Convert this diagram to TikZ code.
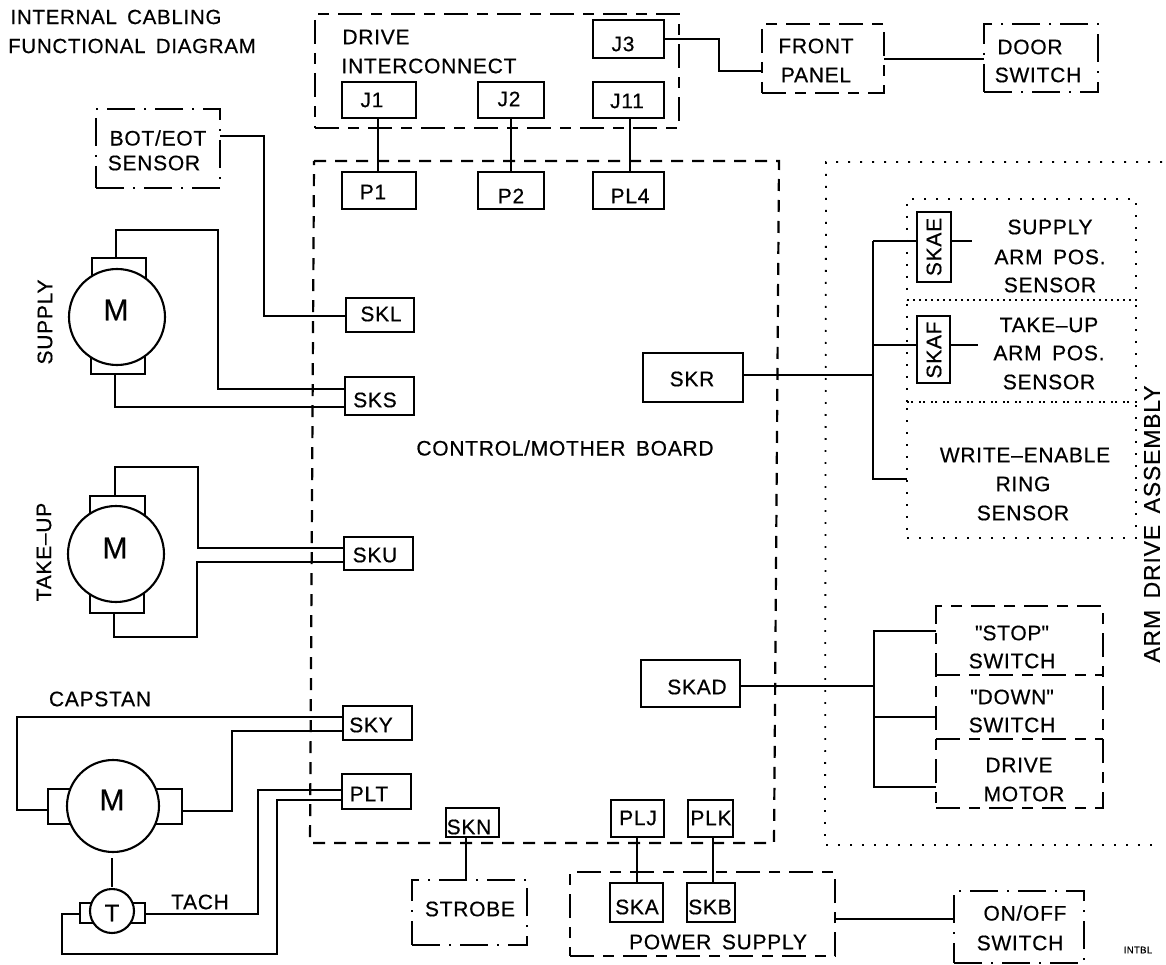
\documentclass[tikz,border=0pt]{standalone}
\usepackage{fontspec}
\setmainfont[LetterSpace=3.5,FakeBold=0.5,WordSpace=1.6]{Liberation Sans}
\newfontfamily\qfont[LetterSpace=3.5,FakeBold=0.5]{Liberation Sans}
\newcommand\qq{{\qfont"}}
\tikzset{
  every picture/.style={line join=miter},
  wire/.style={draw,line width=2pt},
  box/.style={draw,line width=2pt,rectangle,inner sep=0pt,outer sep=0pt},
  dashbox/.style={draw,line width=2.1pt,rectangle,inner sep=0pt,outer sep=0pt,dash pattern=on 24pt off 9pt on 11pt off 9pt},
  ddbox/.style={draw,line width=2.1pt,rectangle,inner sep=0pt,outer sep=0pt,dash pattern=on 28pt off 9pt on 2pt off 9pt},
  ctl/.style={draw,line width=2.2pt,dash pattern=on 12pt off 9pt},
  dots/.style={draw,line width=1.8pt,dash pattern=on 1.8pt off 10.2pt},
  dotbox/.style={dots,rectangle,inner sep=0pt,outer sep=0pt},
  brush/.style={box},
  motor/.style={draw,fill=white,line width=2.1pt,circle,inner sep=0pt,outer sep=0pt},
  txt/.style={inner sep=0pt,outer sep=0pt,font=\fontsize{21}{21}\selectfont,align=center},
  bigm/.style={inner sep=0pt,outer sep=0pt,font=\fontsize{30}{30}\selectfont},
  small/.style={inner sep=0pt,font=\fontsize{9.5}{9.5}\selectfont},
}
% [style] name x1 y1 x2 y2
\newcommand\bx[6][box]{%
  \pgfmathsetmacro\bxcx{(#3+#5)/2}\pgfmathsetmacro\bxcy{(#4+#6)/2}%
  \pgfmathsetmacro\bxw{#5-#3}\pgfmathsetmacro\bxh{#6-#4}%
  \node[#1,minimum width=\bxw pt,minimum height=\bxh pt] (#2) at (\bxcx,\bxcy) {};}
\begin{document}
\begin{tikzpicture}[x=1pt,y=-1pt]
\useasboundingbox (0,0) rectangle (1166,965);
% titles
\node[txt,font=\fontsize{20.5}{21}\selectfont] (t1) at (116,17) {INTERNAL CABLING};
\node[txt,font=\fontsize{20.5}{21}\selectfont] (t2) at (132,46) {FUNCTIONAL DIAGRAM};
% big enclosures
\draw[ctl] (314,161)--(779,161)--(774,843)--(310,843)--cycle;
\draw[dots] (1162,162)--(826,162)--(825,845)--(1160,845);
\node[txt] (ctltext) at (565,448) {CONTROL/MOTHER BOARD};
\node[txt,rotate=90,font=\fontsize{23}{23}\selectfont] (armtext) at (1152,524) {ARM DRIVE ASSEMBLY};
% drive interconnect
\bx[dashbox]{DI}{315}{14}{679}{128}
\node[txt] (dit1) at (376,37) {DRIVE};
\node[txt] (dit2) at (429,66) {INTERCONNECT};
\bx{J1}{342}{82}{416}{118}
\bx{J2}{478}{82}{544}{118}
\bx{J3}{593}{20}{664}{58}
\bx{J11}{593}{82}{664}{118}
\bx{P1}{342}{172}{416}{209}
\bx{P2}{478}{172}{544}{209}
\bx{PL4}{593}{172}{664}{209}
\node[txt] at (372,100) {J1};
\node[txt] at (509,99) {J2};
\node[txt] at (623,44) {J3};
\node[txt] at (627,101) {J11};
\node[txt] at (373,192) {P1};
\node[txt] at (511,196) {P2};
\node[txt] at (630,196) {PL4};
\draw[wire] (J1.south -| 378,0) -- (P1.north -| 378,0);
\draw[wire] (J2.south -| 511,0) -- (P2.north -| 511,0);
\draw[wire] (J11.south -| 630,0) -- (PL4.north -| 630,0);
% front panel, door
\bx[dashbox]{FP}{762}{24}{884}{93}
\bx[ddbox]{DS}{984}{24}{1098}{92}
\node[txt] at (816,46) {FRONT};
\node[txt] at (816,75) {PANEL};
\node[txt] at (1030,47) {DOOR};
\node[txt] at (1038,75) {SWITCH};
\draw[wire] (J3.east) -- (719,39) -- (719,71) -- (FP.west |- 0,71);
\draw[wire] (FP.east |- 0,59) -- (DS.west |- 0,59);
% BOT/EOT
\bx[ddbox]{BE}{96}{109}{220}{188}
\node[txt] at (158,138) {BOT/EOT};
\node[txt] at (154,163) {SENSOR};
% sockets left
\bx{SKL}{346}{298}{414}{332}
\bx{SKS}{345}{377}{414}{415}
\bx{SKU}{344}{537}{413}{570}
\bx{SKY}{343}{706}{412}{740}
\bx{PLT}{342}{774}{411}{809}
\bx{SKN}{446}{808}{499}{837}
\node[txt] at (381,314) {SKL};
\node[txt] at (375,400) {SKS};
\node[txt] at (375,555) {SKU};
\node[txt] at (371,725) {SKY};
\node[txt] at (369,794) {PLT};
\node[txt] at (469,827) {SKN};
\draw[wire] (BE.east |- 0,136) -- (264,136) -- (264,316) -- (SKL.west |- 0,316);
% supply motor
\bx[brush]{SBt}{92}{258}{146}{290}
\bx[brush]{SBb}{91}{345}{145}{374}
\node[motor,minimum size=96pt] (SM) at (117,317) {};
\node[bigm] at (116,310) {M};
\node[txt,rotate=90] at (45,322) {SUPPLY};
\draw[wire] (SBt.north -| 116,0) -- (116,230) -- (218,230) -- (218,389) -- (SKS.west |- 0,389);
\draw[wire] (SBb.south -| 115,0) -- (115,407) -- (SKS.west |- 0,407);
% take-up motor
\bx[brush]{TBt}{90}{496}{145}{530}
\bx[brush]{TBb}{90}{585}{144}{613}
\node[motor,minimum size=96pt] (TM) at (116,554) {};
\node[bigm] at (115,548) {M};
\node[txt,rotate=90] at (44,552) {TAKE--UP};
\draw[wire] (TBt.north -| 115,0) -- (115,467) -- (198,467) -- (198,548) -- (SKU.west |- 0,548);
\draw[wire] (TBb.south -| 114,0) -- (114,637) -- (197,637) -- (197,562) -- (SKU.west |- 0,562);
% capstan
\bx[brush]{CBl}{48}{789}{90}{824}
\bx[brush]{CBr}{136}{789}{182}{824}
\node[motor,minimum size=92pt] (CM) at (113,806) {};
\node[bigm] at (112,800) {M};
\node[txt] (cap) at (100,699) {CAPSTAN};
\draw[wire] (CBl.west |- 0,810) -- (17,810) -- (17,717) -- (SKY.west |- 0,717);
\draw[wire] (CBr.east |- 0,811) -- (232,811) -- (232,731) -- (SKY.west |- 0,731);
% tach
\bx[brush]{TCl}{80}{903}{100}{923}
\bx[brush]{TCr}{125}{903}{145}{923}
\node[motor,minimum size=44pt] (TC) at (112,911) {};
\node[inner sep=0pt,font=\fontsize{24}{24}\selectfont] at (112,913) {T};
\node[txt] (tach) at (200,902) {TACH};
\draw[wire] (112,858) -- (TC.north |- 0,887);
\draw[wire] (TCr.east |- 0,914) -- (258,914) -- (258,790) -- (PLT.west |- 0,790);
\draw[wire] (TCl.west |- 0,914) -- (62,914) -- (62,954) -- (277,954) -- (277,800) -- (PLT.west |- 0,800);
% strobe
\bx[ddbox]{ST}{412}{880}{527}{945}
\node[txt] at (470,909) {STROBE};
\draw[wire] (SKN.south -| 466,0) -- (ST.north -| 466,0);
% power
\bx[dashbox]{PS}{570}{872}{835}{956}
\bx{PLJ}{611}{800}{664}{837}
\bx{PLK}{688}{800}{733}{837}
\bx{SKA}{610}{883}{663}{922}
\bx{SKB}{687}{883}{735}{922}
\node[txt] at (638,818) {PLJ};
\node[txt] at (711,818) {PLK};
\node[txt] at (637,907) {SKA};
\node[txt] at (710,907) {SKB};
\node[txt] at (718,942) {POWER SUPPLY};
\draw[wire] (PLJ.south -| 637,0) -- (SKA.north -| 637,0);
\draw[wire] (PLK.south -| 713,0) -- (SKB.north -| 713,0);
\bx[ddbox]{OO}{954}{891}{1084}{963}
\node[txt] at (1025,913) {ON/OFF};
\node[txt] at (1020,943) {SWITCH};
\draw[wire] (PS.east |- 0,919) -- (OO.west |- 0,919);
\node[small] at (1138,950) {INTBL};
% arm drive
\bx[dotbox]{G1}{907}{199}{1136}{300}
\bx[dotbox]{G2}{907}{300}{1136}{402}
\bx[dotbox]{G3}{907}{402}{1136}{538}
\bx{SKR}{643}{353}{743}{402}
\node[txt] at (692,379) {SKR};
\bx{SKAE}{917}{212}{951}{282}
\bx{SKAF}{917}{316}{950}{383}
\node[txt,rotate=90] at (934,247) {SKAE};
\node[txt,rotate=90] at (934,350) {SKAF};
\coordinate (tr1) at (873,241);
\coordinate (tr2) at (873,479);
\draw[wire] (SKR.east |- 0,375) -- (tr1 |- 0,375);
\draw[wire] (tr1) -- (tr2) -- (G3.west |- 0,479);
\draw[wire] (SKAE.west |- tr1) -- (tr1);
\draw[wire] (873,345) -- (SKAF.west |- 0,345);
\draw[wire] (SKAE.east |- 0,241) -- (972,241);
\draw[wire] (SKAF.east |- 0,345) -- (978,345);
\node[txt] at (1050,227) {SUPPLY};
\node[txt] at (1050,257) {ARM POS.};
\node[txt] at (1050,285) {SENSOR};
\node[txt] at (1049,325) {TAKE--UP};
\node[txt] at (1049,353) {ARM POS.};
\node[txt] at (1049,382) {SENSOR};
\node[txt] at (1025,455) {WRITE--ENABLE};
\node[txt] at (1023,484) {RING};
\node[txt] at (1023,513) {SENSOR};
% switches
\bx{SKAD}{641}{660}{740}{707}
\node[txt] at (697,687) {SKAD};
\bx[dashbox]{SW}{936}{606}{1103}{808}
\draw[dashbox] (SW.west |- 0,675) -- (SW.east |- 0,675);
\draw[dashbox] (SW.west |- 0,739) -- (SW.east |- 0,739);
\coordinate (sa) at (874,631);
\coordinate (sb) at (874,787);
\draw[wire] (SKAD.east |- 0,686) -- (sa |- 0,686);
\draw[wire] (SW.west |- sa) -- (sa) -- (sb) -- (SW.west |- sb);
\draw[wire] (874,717) -- (SW.west |- 0,717);
\node[txt] at (1012,633) {\qq STOP\qq};
\node[txt] at (1012,661) {SWITCH};
\node[txt] at (1012,697) {\qq DOWN\qq};
\node[txt] at (1012,725) {SWITCH};
\node[txt] at (1019,765) {DRIVE};
\node[txt] at (1024,794) {MOTOR};
\end{tikzpicture}
\end{document}
